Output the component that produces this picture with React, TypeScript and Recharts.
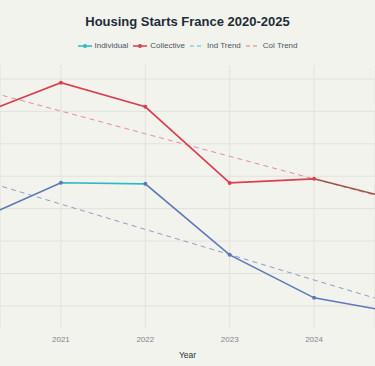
import React from 'react';
import { LineChart, Line, XAxis, YAxis, CartesianGrid } from 'recharts';

const years = [2020, 2021, 2022, 2023, 2024, 2025];
const individual = [172.8, 196, 195.3, 151.5, 125, 115.7];
const collective = [237.4, 257.7, 242.8, 195.9, 198.4, 185.2];
const indTrend = [198.4, 182.8, 167.2, 151.7, 136, 120.5];
const colTrend = [254.1, 240.2, 226.2, 212.3, 198.3, 184.4];
const xTicks = [2021, 2022, 2023, 2024];
const yTicks = [120, 140, 160, 180, 200, 220, 240, 260];

const data = years.map((year, i) => ({
    year,
    individual: individual[i],
    collective: collective[i],
    indTrend: indTrend[i],
    colTrend: colTrend[i]
}));

const W = 375;
const H = 366;
const FONT = '"Liberation Sans", Arial, sans-serif';

const legendItems = [
    { label: 'Individual', color: '#2fb8c2', dashed: false },
    { label: 'Collective', color: '#d93f4e', dashed: false },
    { label: 'Ind Trend', color: '#86d3d8', dashed: true },
    { label: 'Col Trend', color: '#eca0a5', dashed: true }
];

const ChartLegend = () => (
    <div style={{
        position: 'absolute', top: 41, left: 0, width: W, zIndex: 2,
        display: 'flex', justifyContent: 'center', gap: 5, fontSize: 8, color: '#4a5560', fontFamily: FONT
    }}>
        {legendItems.map(item => (
            <div key={item.label} style={{ display: 'flex', alignItems: 'center', gap: 3 }}>
                <svg width={14} height={6}>
                    <line x1={0} y1={3} x2={14} y2={3} stroke={item.color} strokeWidth={1.5}
                        strokeDasharray={item.dashed ? '4 3' : undefined} />
                    {!item.dashed && <circle cx={7} cy={3} r={2} fill={item.color} />}
                </svg>
                <span>{item.label}</span>
            </div>
        ))}
    </div>
);

const App: React.FC = () => {
    return (
        <div style={{ position: 'fixed', top: 0, left: 0, width: W, height: H, background: '#f3f3ee', overflow: 'hidden' }}>
            <div style={{
                position: 'absolute', top: 14, left: 0, width: W, textAlign: 'center', zIndex: 2,
                fontFamily: FONT, fontSize: 13, fontWeight: 700, color: '#1d2c38'
            }}>
                Housing Starts France 2020-2025
            </div>
            <ChartLegend />
            <LineChart width={W} height={H} data={data} margin={{ top: 65, right: 0, bottom: 0, left: 0 }}>
                <defs>
                    <linearGradient id="indGrad" gradientUnits="userSpaceOnUse" x1={0} y1={0} x2={W} y2={0}>
                        <stop offset="0.163" stopColor="#5b78b8" />
                        <stop offset="0.163" stopColor="#2db9c3" />
                        <stop offset="0.387" stopColor="#2db9c3" />
                        <stop offset="0.387" stopColor="#5b78b8" />
                    </linearGradient>
                    <linearGradient id="colGrad" gradientUnits="userSpaceOnUse" x1={0} y1={0} x2={W} y2={0}>
                        <stop offset="0.837" stopColor="#d93f4e" />
                        <stop offset="0.837" stopColor="#9c5548" />
                    </linearGradient>
                </defs>
                <CartesianGrid stroke="#e2e2dc" strokeWidth={1} horizontalValues={yTicks} />
                <XAxis
                    dataKey="year"
                    type="number"
                    domain={[2020.278, 2024.722]}
                    allowDataOverflow
                    ticks={xTicks}
                    axisLine={false}
                    tickLine={false}
                    height={38}
                    tick={{ fontSize: 8, fill: '#80858a', fontFamily: FONT }}
                    label={{ value: 'Year', position: 'insideBottom', offset: 8, fontSize: 8.5, fill: '#2a333b', fontFamily: FONT }}
                />
                <YAxis hide domain={[106.4, 268.6]} ticks={yTicks} />
                <Line dataKey="indTrend" stroke="#8c9dc4" strokeWidth={1} strokeDasharray="5 4" dot={false} isAnimationActive={false} />
                <Line dataKey="colTrend" stroke="#e48c93" strokeWidth={1} strokeDasharray="5 4" dot={false} isAnimationActive={false} />
                <Line dataKey="individual" stroke="url(#indGrad)" strokeWidth={1.6} dot={{ r: 2, fill: '#5b78b8', stroke: 'none' }} isAnimationActive={false} />
                <Line dataKey="collective" stroke="url(#colGrad)" strokeWidth={1.6} dot={{ r: 2, fill: '#d93f4e', stroke: 'none' }} isAnimationActive={false} />
            </LineChart>
        </div>
    );
};

export default App;
